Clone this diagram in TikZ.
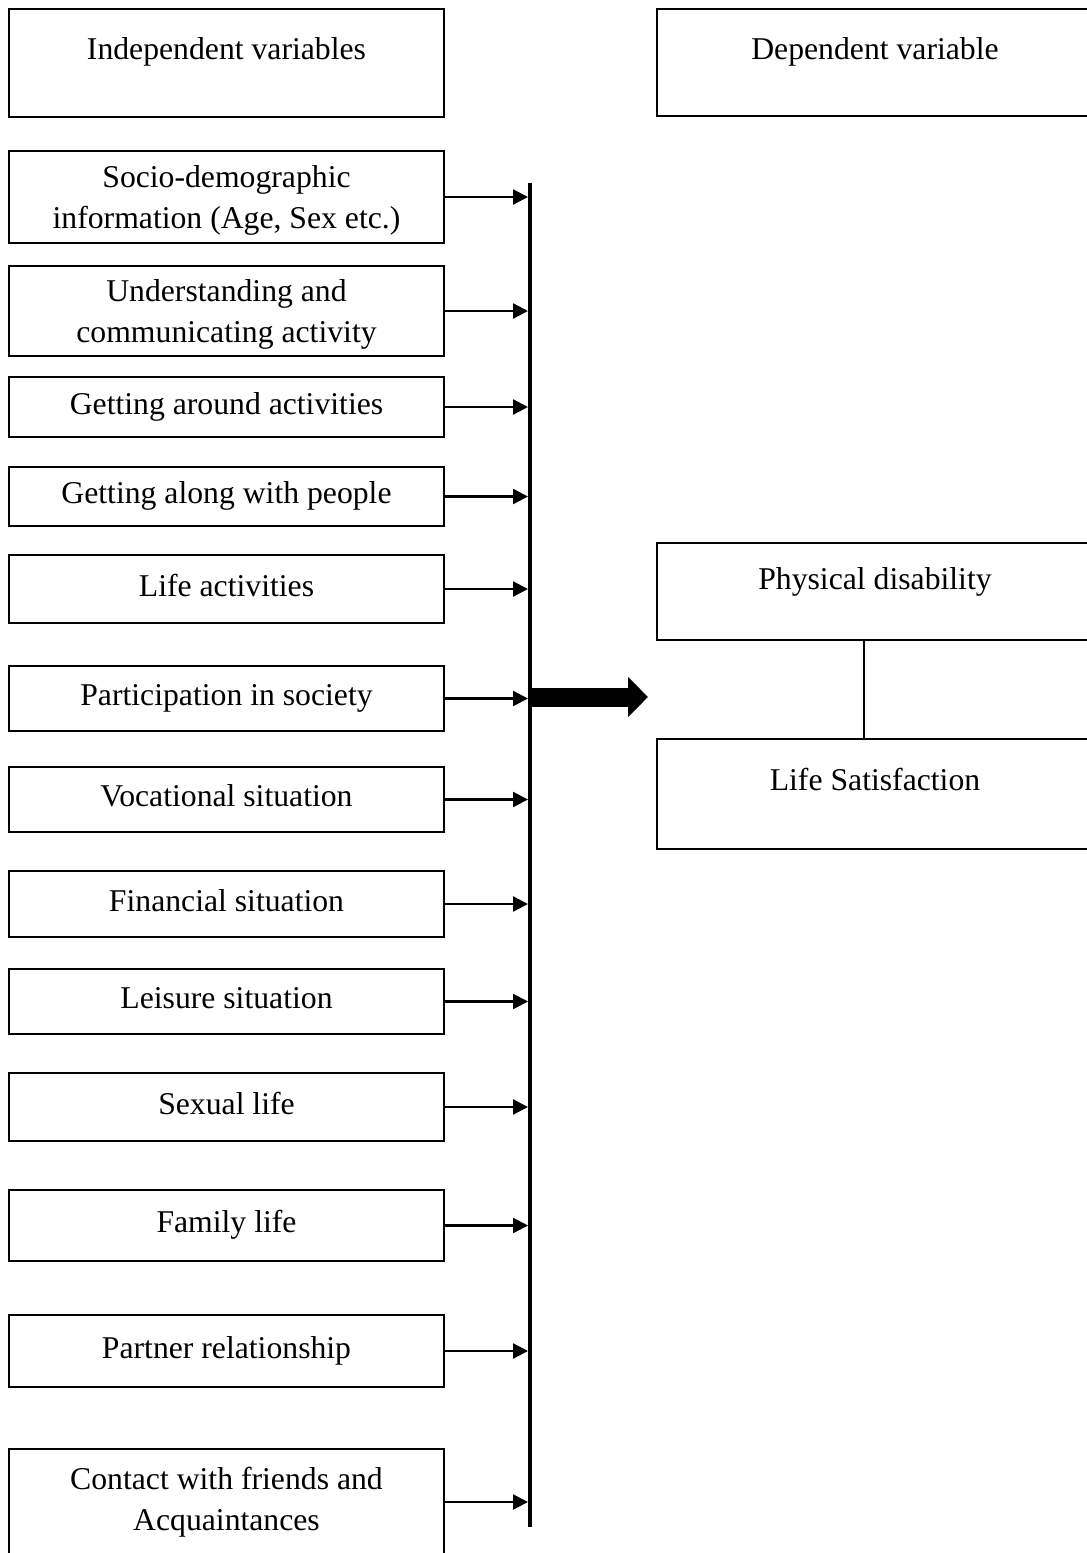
\documentclass[tikz,border=0pt]{standalone}
\usepackage{fontspec}
\setmainfont{Liberation Serif}
\usepackage{tikz}
\usetikzlibrary{arrows.meta}
\usetikzlibrary{positioning}
\tikzset{>={Triangle[length=15pt,width=15pt]}}
\tikzset{
    box/.style={draw, line width=1.3pt, minimum width=435pt, inner sep=0pt, outer sep=0pt,
        font=\fontsize{31.7pt}{41pt}\selectfont},
    oneline/.style={text height=22pt, text depth=#1},
    oneline/.default=8pt,
    feed/.style={->, line width=2.3pt, shorten >=2pt},
    bar/.style={line width=4.5pt},
    bigarrow/.style={line width=19pt, -{Triangle[length=20pt,width=39pt]}}
}

\begin{document}
\begin{tikzpicture}[x=1pt, y=-1pt]
        \useasboundingbox (0,0) rectangle (1087,1553);

        \node [box, oneline=30pt, minimum height=108pt, anchor=north west] (Indep) at (9,9) {Independent variables};
        \node [box, oneline=29pt, minimum width=436pt, minimum height=107pt, anchor=north west] (Dep) at (657,9) {Dependent variable};

        \node [box, align=center, text depth=-9pt, minimum height=92pt, below=34pt of Indep] (SocioDemo) {Socio-demographic\\information (Age, Sex etc.)};
        \node [box, align=center, text depth=-6pt, minimum height=90pt, below=23pt of SocioDemo] (Understand) {Understanding and\\communicating activity};
        \node [box, oneline, minimum height=60pt, below=21pt of Understand] (Around) {Getting around activities};
        \node [box, oneline, minimum height=59pt, below=30pt of Around] (Along) {Getting along with people};
        \node [box, oneline, minimum height=68pt, below=29pt of Along] (LifeAct) {Life activities};
        \node [box, oneline, minimum height=65pt, below=43pt of LifeAct] (Particip) {Participation in society};
        \node [box, oneline, minimum height=65pt, below=36pt of Particip] (Vocation) {Vocational situation};
        \node [box, oneline, minimum height=66pt, below=39pt of Vocation] (Finance) {Financial situation};
        \node [box, oneline, minimum height=65pt, below=32pt of Finance] (Leisure) {Leisure situation};
        \node [box, oneline, minimum height=68pt, below=39pt of Leisure] (Sexual) {Sexual life};
        \node [box, oneline, minimum height=71pt, below=49pt of Sexual] (Family) {Family life};
        \node [box, oneline, minimum height=72pt, below=54pt of Family] (Partner) {Partner relationship};
        \node [box, align=center, minimum height=106pt, below=62pt of Partner] (Contact) {Contact with friends and\\Acquaintances};

        \node [box, oneline=27pt, minimum width=436pt, minimum height=97pt, below=427pt of Dep] (Phys) {Physical disability};
        \node [box, oneline=30pt, minimum width=436pt, minimum height=110pt, below=99pt of Phys] (LifeSat) {Life Satisfaction};

        \coordinate (BarTop) at (530,183);
        \coordinate (BarBot) at (530,1527);
        \draw [bar] (BarTop)--(BarBot);

        \foreach \n in {SocioDemo,Understand,Around,Along,LifeAct,Particip,Vocation,Finance,Leisure,Sexual,Family,Partner,Contact}
            \draw [feed] (\n.east)--(\n.east -| BarTop);

        \coordinate (OutTip) at (648,697);
        \draw [bigarrow] ([xshift=2pt]OutTip -| BarTop)--(OutTip);

        \draw [line width=1.3pt] ([xshift=-11pt]Phys.south)--([xshift=-11pt]LifeSat.north);
    \end{tikzpicture}
\end{document}
